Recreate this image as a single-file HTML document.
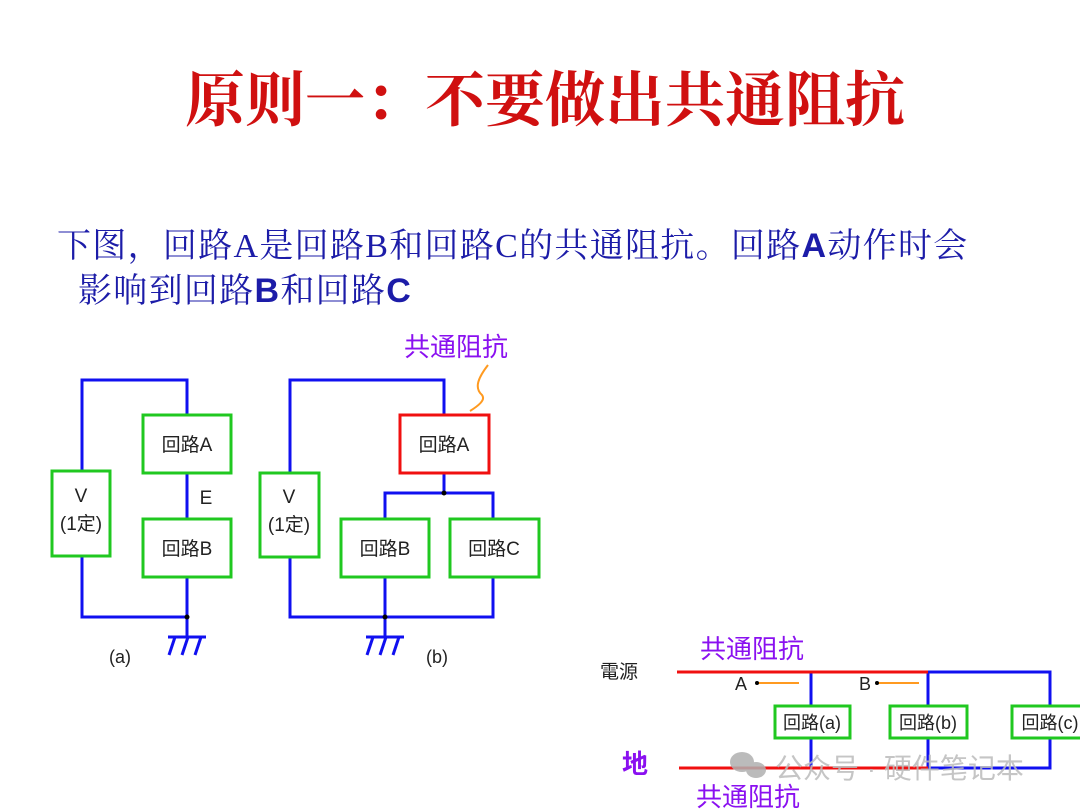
<!DOCTYPE html>
<html><head><meta charset="utf-8"><style>
body{margin:0;background:#fff;}
.p{position:relative;width:1080px;height:811px;overflow:hidden;font-family:"Liberation Sans","Noto Sans CJK SC",sans-serif;}
.t{position:absolute;white-space:nowrap;}
</style></head><body><div class="p">
<div class="t" style="left:185px;top:53px;font-family:'Liberation Serif','Noto Serif CJK SC',serif;font-size:60px;font-weight:bold;color:#d01010;">原则一：不要做出共通阻抗</div>
<div class="t" style="left:57px;top:218px;font-family:'Liberation Serif','Noto Serif CJK SC',serif;font-size:34px;letter-spacing:1.3px;color:#1c1ca8;">下图，回路A是回路B和回路C的共通阻抗。回路<b style="font-family:'Liberation Sans'">A</b>动作时会</div>
<div class="t" style="left:78px;top:263px;font-family:'Liberation Serif','Noto Serif CJK SC',serif;font-size:34px;letter-spacing:1.3px;color:#1c1ca8;">影响到回路<b style="font-family:'Liberation Sans'">B</b>和回路<b style="font-family:'Liberation Sans'">C</b></div>
<svg width="1080" height="811" style="position:absolute;left:0;top:0" font-family="Liberation Sans,Noto Sans CJK SC,sans-serif">
<g fill="none" stroke="#1010f0" stroke-width="3">
<polyline points="82,471 82,380 187,380 187,415"/>
<line x1="187" y1="473" x2="187" y2="519"/>
<polyline points="82,556 82,617 187,617 187,577"/>
<line x1="187" y1="617" x2="187" y2="637"/>
<line x1="168" y1="637" x2="206" y2="637"/>
<line x1="175" y1="637" x2="169" y2="655"/><line x1="188" y1="637" x2="182" y2="655"/><line x1="201" y1="637" x2="195" y2="655"/>
<polyline points="290,473 290,380 444,380 444,415"/>
<line x1="444" y1="473" x2="444" y2="493"/>
<polyline points="385,519 385,493 493,493 493,519"/>
<polyline points="290,557 290,617 493,617 493,577"/>
<line x1="385" y1="577" x2="385" y2="637"/>
<line x1="366" y1="637" x2="404" y2="637"/>
<line x1="373" y1="637" x2="367" y2="655"/><line x1="386" y1="637" x2="380" y2="655"/><line x1="399" y1="637" x2="393" y2="655"/>
<polyline points="928,672 1050,672 1050,706"/>
<line x1="811" y1="672" x2="811" y2="706"/><line x1="811" y1="738" x2="811" y2="768"/>
<line x1="928" y1="672" x2="928" y2="706"/>
<polyline points="928,738 928,768 1050,768 1050,738"/>
</g>
<circle cx="187" cy="617" r="2.5" fill="#000"/><circle cx="444" cy="493" r="2.5" fill="#000"/><circle cx="385" cy="617" r="2.5" fill="#000"/>
<g fill="#fff" stroke="#20c820" stroke-width="3">
<rect x="143" y="415" width="88" height="58"/><rect x="52" y="471" width="58" height="85"/><rect x="143" y="519" width="88" height="58"/>
<rect x="260" y="473" width="59" height="84"/><rect x="341" y="519" width="88" height="58"/><rect x="450" y="519" width="89" height="58"/>
<rect x="775" y="706" width="75" height="32"/><rect x="890" y="706" width="77" height="32"/><rect x="1012" y="706" width="80" height="32"/>
</g>
<rect x="400" y="415" width="89" height="58" fill="#fff" stroke="#f01010" stroke-width="3"/>
<g fill="#222" font-size="19" text-anchor="middle">
<text x="187" y="451">回路A</text><text x="187" y="555">回路B</text>
<text x="81" y="502">V</text><text x="81" y="530">(1定)</text>
<text x="206" y="504">E</text>
<text x="289" y="503">V</text><text x="289" y="531">(1定)</text>
<text x="444" y="451">回路A</text><text x="385" y="555">回路B</text><text x="494" y="555">回路C</text>
<text x="120" y="663" font-size="18">(a)</text><text x="437" y="663" font-size="18">(b)</text>
<text x="812" y="729" font-size="18">回路(a)</text><text x="928" y="729" font-size="18">回路(b)</text><text x="1050" y="729" font-size="18">回路(c)</text>
<text x="619" y="678" font-size="19">電源</text>
<text x="741" y="690" font-size="18">A</text><text x="865" y="690" font-size="18">B</text>
</g>
<path d="M488,365 C478,378 474,388 482,395 C486,400 478,406 470,411" fill="none" stroke="#ff9a20" stroke-width="2"/>
<line x1="677" y1="672" x2="928" y2="672" stroke="#f01010" stroke-width="3"/>
<line x1="679" y1="768" x2="928" y2="768" stroke="#f01010" stroke-width="3"/>
<line x1="757" y1="683" x2="799" y2="683" stroke="#ff9a20" stroke-width="2"/><circle cx="757" cy="683" r="2" fill="#000"/>
<line x1="877" y1="683" x2="919" y2="683" stroke="#ff9a20" stroke-width="2"/><circle cx="877" cy="683" r="2" fill="#000"/>
<g fill="#8a10f0" font-size="26">
<text x="404" y="356">共通阻抗</text>
<text x="700" y="658">共通阻抗</text>
<text x="696" y="806">共通阻抗</text>
<text x="622" y="773" font-weight="bold">地</text>
</g>
<g fill="#b0b0b0" opacity="0.85"><ellipse cx="742" cy="762" rx="12" ry="10"/><ellipse cx="756" cy="770" rx="10" ry="8"/></g>
<text x="775" y="778" font-size="28" fill="#bbb" opacity="0.85">公众号 · 硬件笔记本</text>
</svg>
</div></body></html>
